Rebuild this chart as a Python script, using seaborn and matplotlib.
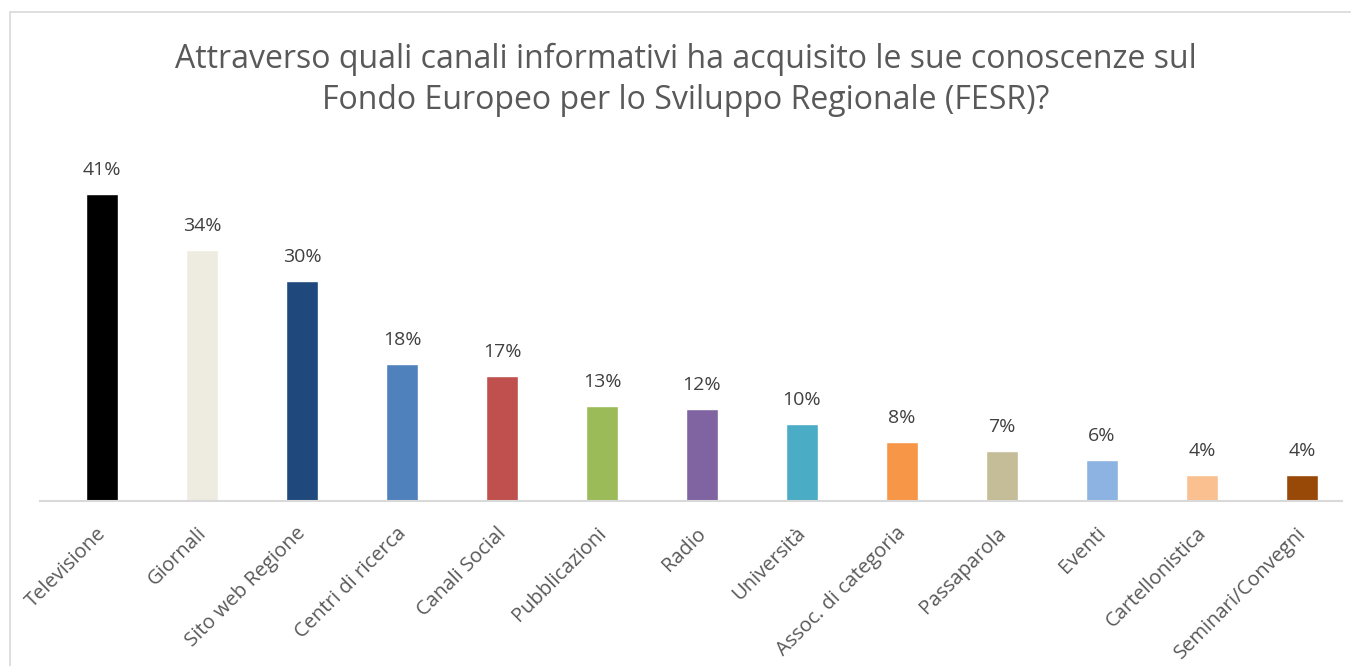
import matplotlib
matplotlib.use("Agg")
import matplotlib.pyplot as plt
import matplotlib.transforms as mtransforms
import seaborn as sns
import pandas as pd
from matplotlib.patches import Rectangle

categories = ["Televisione", "Giornali", "Sito web Regione", "Centri di ricerca",
              "Canali Social", "Pubblicazioni", "Radio", "Università",
              "Assoc. di categoria", "Passaparola", "Eventi", "Cartellonistica",
              "Seminari/Convegni"]
values = [41.0, 33.5, 29.4, 18.3, 16.7, 12.7, 12.3, 10.3, 7.9, 6.7, 5.5, 3.5, 3.5]
value_labels = ["41%", "34%", "30%", "18%", "17%", "13%", "12%", "10%", "8%", "7%",
                "6%", "4%", "4%"]
colors = ["#000000", "#EEECE1", "#1F497D", "#4F81BD", "#C0504D", "#9BBB59",
          "#8064A2", "#4BACC6", "#F79646", "#C4BD97", "#8DB3E2", "#FAC090",
          "#984807"]
title = ("Attraverso quali canali informativi ha acquisito le sue conoscenze sul\n"
         "Fondo Europeo per lo Sviluppo Regionale (FESR)?")

sns.set_theme(style="white")
plt.rcParams['font.family'] = ['Open Sans', 'DejaVu Sans']

W, H = 1351, 666
fig = plt.figure(figsize=(W / 100, H / 100), dpi=100)

# chart border
fig.patches.append(Rectangle((10 / W, -0.1), 1.2, (H - 12) / H + 0.1,
                             transform=fig.transFigure, fill=False,
                             edgecolor="#D9D9D9", linewidth=1.2))

# axes: baseline at y=501, x from 40 to 1342
ax_left, ax_right = 40, 1342
ax_bottom, ax_top = 501, 160
ax = fig.add_axes([ax_left / W, 1 - ax_bottom / H, (ax_right - ax_left) / W,
                   (ax_bottom - ax_top) / H])

df = pd.DataFrame({"cat": categories, "val": values})
sns.barplot(data=df, x="cat", y="val", hue="cat", palette=colors, legend=False,
            width=0.32, ax=ax, saturation=1)

# y scale: 41% at y=194 px, baseline 501
px_per = (501 - 194) / 41.0
ax.set_ylim(0, (ax_bottom - ax_top) / px_per)
ax.set_xlim(-0.62, 12.4)

for i, (v, lab) in enumerate(zip(values, value_labels)):
    ax.annotate(lab, (i, v), xytext=(0, 11), textcoords="offset points",
                ha="center", va="bottom", fontsize=14, color="#404040")

ax.set_xlabel("")
ax.set_ylabel("")
ax.set_yticks([])
for s in ["top", "right", "left"]:
    ax.spines[s].set_visible(False)
ax.spines["bottom"].set_color("#D9D9D9")
ax.spines["bottom"].set_linewidth(1.5)
ax.tick_params(axis="x", length=0, pad=6)
ax.set_xticks(range(len(categories)))
ax.set_xticklabels(categories, rotation=45, ha="right", va="top",
                   rotation_mode="anchor", fontsize=14.5, color="#595959")
offset = mtransforms.ScaledTranslation(-0.06, -0.14, fig.dpi_scale_trans)
for lbl in ax.get_xticklabels():
    lbl.set_transform(lbl.get_transform() + offset)

fig.text(686 / W, 1 - 80 / H, title, ha="center", va="center", fontsize=23,
         color="#595959", linespacing=1.3)

fig.savefig("out.png", dpi=100, facecolor="white")
